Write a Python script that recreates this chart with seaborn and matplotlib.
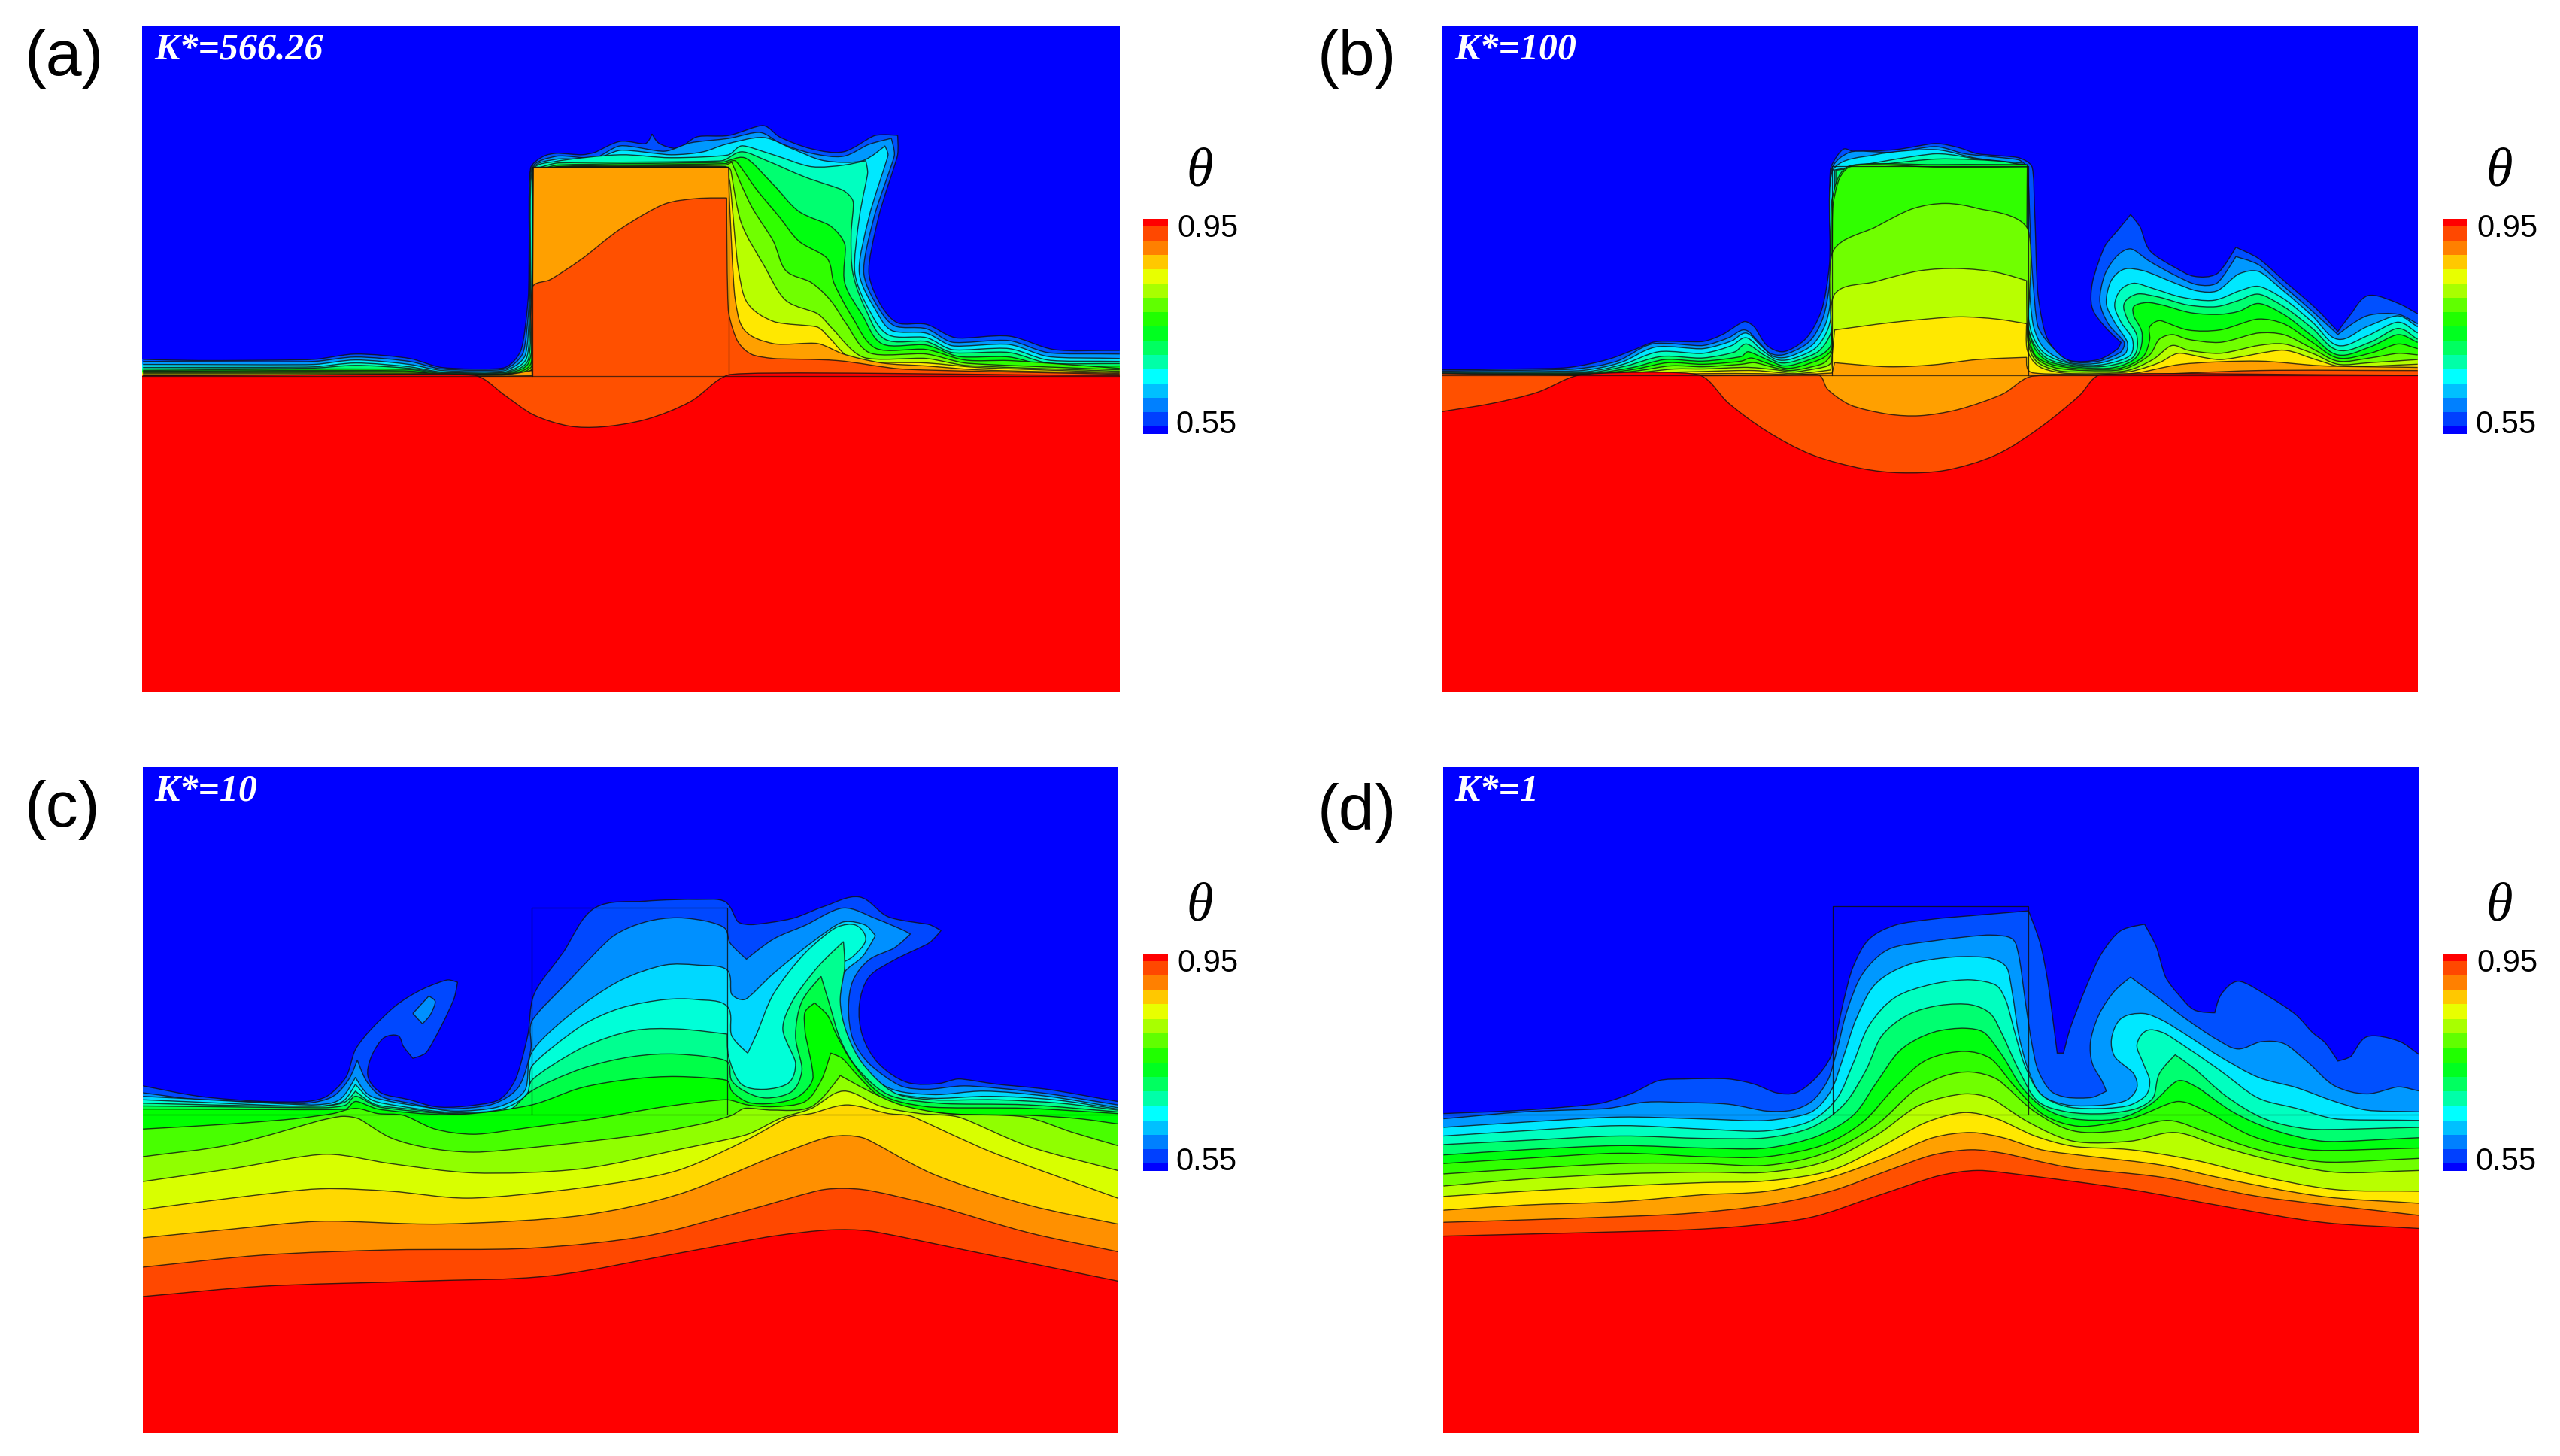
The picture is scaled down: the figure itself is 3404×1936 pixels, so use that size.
import numpy as np
import matplotlib
matplotlib.use("Agg")
import matplotlib.pyplot as plt
from matplotlib.path import Path
from matplotlib.patches import PathPatch
from matplotlib.colors import ListedColormap
import seaborn as sns

# ---- data: isotherm curves (x, y) in each panel's reading units ----
band_colors = ["#0000ff", "#0050ff", "#0098ff", "#00e8ff", "#00ffc0", "#00ff70", "#00ff10",
               "#30ff00", "#70ff00", "#b8ff00", "#ffe800", "#ffa000", "#ff5000", "#ff0000"]
band_colors_c = ["#0000ff", "#0048ff", "#0090ff", "#00d8ff", "#00ffd8", "#00ff90", "#00ff48", "#00ff00",
                 "#48ff00", "#90ff00", "#d8ff00", "#ffd800", "#ff9000", "#ff4800", "#ff0000"]
bar_colors = ["#0000ff", "#0040ff", "#0080ff", "#00c0ff", "#00ffff", "#00ffa8", "#00ff60", "#00ff20",
              "#20ff00", "#60ff00", "#a8ff00", "#e8ff00", "#ffc800", "#ff8000", "#ff4800", "#ff0000"]
bar_bands = [15, 14, 14, 13, 13, 12, 12, 11, 11, 10, 10, 9, 9, 8, 8, 7, 7, 6, 6, 5, 5, 4, 4, 3, 3, 2, 2, 1, 1, 0]
k_labels = ["K*=566.26", "K*=100", "K*=10", "K*=1"]
panel_labels = ["(a)", "(b)", "(c)", "(d)"]
bar_ticks = ["0.95", "0.55"]

a1 = [(12,1158),(100,1162),(280,1158),(345,1140),(430,1155),(480,1185),(580,1185),(604,1130),(616,950),(620,512),(640,475),(660,465),(700,470),(720,462),(760,425),(800,432),(810,400),(820,430),(850,448),(880,410),(930,405),(985,372),(1010,410),(1060,450),(1110,460),(1160,405),(1195,405),(1195,470),(1165,680),(1150,870),(1170,980),(1195,1035),(1240,1040),(1285,1085),(1370,1080),(1440,1125),(1543,1128)]
a2 = [(12,1165),(280,1165),(345,1150),(430,1165),(480,1190),(580,1190),(607,1140),(618,950),(621,514),(660,475),(720,480),(760,440),(830,458),(870,430),(930,415),(980,395),(1010,430),(1060,465),(1110,475),(1150,435),(1185,415),(1190,470),(1158,680),(1142,870),(1165,985),(1190,1045),(1240,1055),(1280,1100),(1370,1095),(1430,1135),(1543,1140)]
a3 = [(12,1175),(280,1175),(345,1160),(430,1175),(480,1195),(580,1195),(610,1150),(619,960),(622,516),(660,485),(720,485),(760,455),(840,470),(890,460),(925,435),(985,412),(1030,450),(1080,490),(1140,490),(1175,440),(1180,470),(1150,680),(1135,870),(1160,990),(1185,1060),(1240,1070),(1280,1112),(1370,1108),(1430,1148),(1543,1155)]
a4 = [(12,1185),(280,1183),(345,1170),(430,1183),(480,1200),(580,1200),(612,1160),(620,970),(623,518),(660,492),(760,470),(840,480),(930,470),(950,440),(1000,470),(1060,510),(1110,505),(1145,490),(1148,530),(1135,680),(1128,870),(1150,990),(1180,1075),(1240,1085),(1280,1125),(1370,1122),(1430,1160),(1543,1165)]
a5 = [(12,1190),(280,1187),(345,1178),(430,1188),(480,1202),(580,1202),(614,1168),(621,975),(624,520),(660,498),(920,490),(950,460),(990,490),(1050,545),(1110,590),(1125,625),(1122,740),(1125,870),(1145,990),(1175,1090),(1240,1098),(1280,1135),(1370,1135),(1430,1170),(1543,1172)]
a6 = [(12,1195),(280,1190),(430,1192),(480,1205),(580,1205),(615,1175),(628,980),(634,530),(660,505),(920,495),(955,480),(1000,570),(1040,660),(1090,710),(1112,770),(1112,900),(1140,1010),(1170,1105),(1240,1110),(1290,1148),(1370,1150),(1430,1180),(1543,1180)]
a7 = [(12,1198),(280,1195),(430,1197),(480,1208),(580,1207),(618,1180),(628,1000),(636,535),(660,510),(925,500),(940,490),(975,590),(1010,680),(1040,760),(1085,820),(1095,900),(1125,1020),(1160,1120),(1240,1125),(1300,1160),(1370,1162),(1543,1188)]
a8 = [(12,1200),(280,1198),(430,1200),(480,1209),(580,1208),(620,1185),(629,1020),(638,538),(660,512),(925,505),(935,495),(965,640),(1000,760),(1020,860),(1060,900),(1090,960),(1115,1040),(1150,1135),(1240,1140),(1300,1170),(1543,1193)]
a9 = [(12,1203),(430,1204),(580,1209),(622,1190),(630,1050),(640,540),(660,514),(925,510),(933,520),(950,700),(985,840),(1020,960),(1070,1005),(1095,1060),(1140,1150),(1240,1155),(1300,1178),(1543,1198)]
a10 = [(12,1206),(430,1207),(580,1210),(622,1193),(631,1080),(640,545),(660,515),(925,512),(932,560),(945,850),(960,970),(1000,1030),(1070,1050),(1090,1090),(1125,1160),(1240,1170),(1320,1185),(1543,1202)]
a11 = [(12,1210),(480,1212),(580,1210),(622,1195),(624,512),(930,512),(931,600),(940,950),(955,1060),(1000,1105),(1070,1105),(1110,1140),(1170,1170),(1240,1180),(1320,1193),(1543,1205)]
a12 = [(12,1213),(460,1213),(535,1215),(622,1213),(623,912),(650,890),(700,820),(760,720),(830,635),(880,617),(927,615),(930,1000),(945,1100),(965,1140),(1000,1155),(1100,1162),(1200,1190),(1543,1208)]
a13 = [(12,1213),(535,1213),(580,1280),(625,1345),(680,1382),(730,1385),(800,1360),(870,1300),(930,1210),(1543,1212)]
curves_a = [a1, a2, a3, a4, a5, a6, a7, a8, a9, a10, a11, a12, a13]

b1 = [(20,1138),(140,1135),(220,1130),(280,1105),(320,1075),(355,1048),(430,1047),(460,1025),(495,983),(510,1000),(530,1060),(555,1080),(590,1040),(615,950),(628,800),(630,490),(650,430),(665,437),(730,432),(795,412),(830,425),(860,445),(925,458),(945,485),(950,650),(955,900),(970,1040),(1000,1105),(1050,1105),(1080,1070),(1085,1050),(1060,1000),(1040,940),(1040,860),(1060,740),(1080,690),(1100,640),(1115,680),(1130,755),(1170,810),(1200,838),(1235,830),(1265,745),(1300,780),(1345,860),(1390,940),(1425,1015),(1445,960),(1472,900),(1520,925),(1550,958)]
b2 = [(20,1142),(230,1135),(295,1110),(350,1055),(430,1060),(470,1035),(495,1010),(515,1045),(535,1085),(555,1090),(595,1050),(618,970),(630,830),(632,490),(660,440),(730,440),(795,422),(840,445),(925,465),(938,490),(945,800),(955,1000),(975,1060),(1005,1110),(1050,1110),(1085,1080),(1090,1050),(1065,990),(1052,920),(1060,830),(1080,770),(1100,750),(1130,790),(1170,835),(1205,865),(1235,860),(1265,775),(1300,800),(1340,870),(1385,950),(1425,1025),(1470,965),(1520,960),(1550,990)]
b3 = [(20,1145),(240,1140),(300,1115),(355,1065),(430,1070),(475,1045),(497,1020),(520,1060),(540,1095),(560,1098),(600,1060),(622,990),(632,880),(634,495),(700,448),(795,432),(860,460),(930,475),(938,800),(948,1000),(965,1070),(1005,1115),(1055,1115),(1092,1085),(1095,1050),(1075,985),(1062,925),(1070,850),(1090,815),(1120,820),(1170,860),(1205,885),(1235,885),(1270,830),(1300,822),(1340,885),(1385,965),(1425,1040),(1470,1000),(1520,965),(1550,1000)]
b4 = [(20,1147),(250,1143),(305,1120),(360,1080),(430,1085),(475,1060),(497,1035),(522,1075),(545,1105),(565,1105),(605,1070),(625,1010),(634,920),(636,497),(795,445),(870,465),(935,480),(936,900),(945,1020),(965,1085),(1010,1120),(1060,1120),(1100,1090),(1103,1040),(1085,985),(1075,930),(1085,880),(1105,860),(1140,880),(1180,905),(1230,915),(1270,885),(1300,870),(1340,910),(1385,985),(1425,1060),(1470,1030),(1520,985),(1550,1020)]
b5 = [(20,1150),(255,1146),(310,1125),(365,1095),(430,1100),(480,1080),(497,1055),(525,1090),(550,1115),(570,1112),(610,1080),(628,1030),(636,960),(638,498),(795,462),(900,470),(936,485),(936,950),(945,1040),(968,1100),(1015,1125),(1065,1125),(1105,1095),(1110,1030),(1095,975),(1090,925),(1110,895),(1145,905),(1190,930),(1235,935),(1270,915),(1300,895),(1340,935),(1385,1005),(1425,1075),(1475,1050),(1520,1005),(1550,1040)]
b6 = [(20,1152),(260,1148),(320,1130),(370,1105),(430,1110),(490,1095),(500,1080),(530,1105),(555,1125),(575,1120),(615,1090),(630,1060),(632,590),(655,488),(800,480),(938,480),(937,980),(950,1070),(970,1110),(1020,1130),(1075,1130),(1110,1095),(1118,1020),(1105,965),(1105,935),(1125,922),(1150,930),(1195,955),(1240,960),(1270,950),(1300,925),(1340,960),(1385,1030),(1425,1090),(1475,1065),(1520,1025),(1550,1050)]
b7 = [(20,1154),(265,1150),(325,1135),(375,1115),(430,1120),(490,1110),(505,1100),(535,1120),(560,1133),(580,1128),(618,1100),(632,1070),(634,600),(657,490),(800,488),(938,490),(938,1000),(950,1090),(975,1120),(1025,1135),(1085,1132),(1120,1095),(1130,1040),(1130,1000),(1145,980),(1190,1010),(1240,1010),(1300,975),(1340,990),(1385,1050),(1425,1100),(1475,1085),(1520,1055),(1550,1070)]
b8 = [(20,1155),(265,1152),(330,1140),(380,1125),(430,1128),(490,1120),(510,1115),(540,1130),(565,1140),(585,1135),(620,1115),(632,1080),(634,755),(700,680),(760,620),(810,604),(860,620),(937,680),(938,1030),(952,1100),(980,1130),(1030,1140),(1090,1135),(1130,1090),(1145,1040),(1165,1025),(1190,1040),(1240,1050),(1300,1020),(1340,1025),(1385,1070),(1425,1110),(1475,1100),(1520,1085),(1550,1090)]
b9 = [(20,1156),(270,1153),(335,1145),(385,1135),(430,1135),(500,1130),(545,1138),(570,1145),(590,1140),(625,1125),(635,1100),(636,895),(700,855),(770,820),(830,813),(890,825),(937,852),(939,1050),(952,1110),(985,1140),(1040,1145),(1095,1140),(1135,1105),(1165,1060),(1190,1075),(1240,1085),(1300,1060),(1340,1055),(1385,1085),(1425,1120),(1475,1115),(1550,1105)]
b10 = [(20,1157),(275,1155),(340,1148),(430,1143),(510,1140),(575,1150),(630,1138),(636,1010),(730,985),(830,968),(890,975),(937,990),(938,1075),(955,1125),(990,1147),(1045,1150),(1100,1143),(1145,1115),(1175,1085),(1240,1105),(1340,1075),(1390,1105),(1430,1128),(1550,1120)]
b11 = [(20,1158),(280,1157),(430,1150),(520,1150),(580,1153),(632,1148),(636,1115),(720,1128),(790,1122),(860,1105),(937,1098),(940,1140),(960,1150),(1100,1150),(1180,1120),(1300,1110),(1400,1125),(1550,1130)]
b12 = [(20,1150),(300,1157),(560,1155),(612,1155),(625,1200),(660,1250),(720,1280),(770,1285),(830,1265),(900,1215),(942,1160),(1100,1155),(1300,1140),(1550,1140)]
b13 = [(20,1272),(100,1245),(170,1210),(235,1155),(425,1155),(470,1245),(530,1335),(600,1410),(680,1455),(740,1468),(810,1460),(890,1410),(960,1320),(1020,1220),(1050,1155),(1550,1155)]
curves_b = [b1, b2, b3, b4, b5, b6, b7, b8, b9, b10, b11, b12, b13]

c1 = [(12,945),(100,975),(200,990),(270,990),(300,975),(330,920),(345,840),(370,780),(410,710),(450,665),(490,638),(505,645),(500,690),(480,770),(455,850),(435,865),(420,830),(412,800),(390,805),(370,860),(365,920),(385,965),(430,985),(470,1005),(510,1005),(570,985),(595,930),(615,800),(625,680),(670,560),(720,430),(800,410),(880,405),(925,412),(945,470),(965,478),(1030,460),(1080,425),(1135,398),(1180,455),(1245,478),(1263,495),(1245,530),(1190,580),(1150,630),(1135,710),(1140,800),(1165,880),(1210,935),(1260,938),(1290,925),(1350,940),(1430,955),(1540,990)]
c2 = [(12,965),(100,985),(210,992),(270,995),(310,975),(335,925),(348,870),(362,930),(385,975),(430,995),(480,1012),(560,998),(600,950),(620,840),(621,760),(680,640),(750,510),(800,470),(850,458),(900,470),(925,490),(932,530),(958,578),(1000,520),(1050,480),(1110,430),(1160,460),(1205,495),(1215,505),(1190,545),(1150,580),(1125,640),(1118,720),(1125,810),(1150,880),(1200,945),(1240,955),(1300,945),(1420,965),(1540,1000)]
c3 = [(12,975),(280,1000),(320,985),(345,920),(365,970),(400,990),(450,1005),(500,1018),(570,1005),(610,960),(621,850),(680,740),(760,640),(830,595),(880,595),(928,610),(935,680),(955,695),(1000,620),(1060,530),(1110,470),(1145,480),(1160,510),(1140,570),(1110,620),(1100,700),(1105,800),(1130,870),(1180,950),(1250,970),(1330,960),(1430,975),(1540,1008)]
c4 = [(12,985),(280,1005),(325,990),(345,940),(370,985),(420,1005),(500,1022),(575,1012),(615,965),(621,890),(700,770),(760,720),(830,695),(880,695),(928,715),(935,800),(960,850),(975,790),(1000,680),(1050,560),(1100,485),(1130,480),(1145,520),(1125,570),(1100,600),(1080,690),(1085,790),(1105,870),(1160,950),(1240,980),(1340,975),(1440,985),(1540,1012)]
c5 = [(12,995),(200,1003),(300,1003),(330,990),(345,960),(375,998),(430,1012),(500,1025),(580,1018),(612,985),(621,930),(700,835),(780,785),(850,780),(928,795),(930,860),(950,940),(985,955),(1025,935),(1035,880),(1015,780),(1030,700),(1070,600),(1110,527),(1112,600),(1105,700),(1115,790),(1140,880),(1190,965),(1250,985),(1350,985),(1450,995),(1540,1015)]
c6 = [(12,1003),(300,1008),(330,1000),(345,975),(380,1005),(500,1027),(580,1022),(621,960),(700,895),(780,860),(850,853),(928,875),(935,930),(960,965),(990,980),(1030,960),(1045,900),(1035,800),(1045,700),(1075,628),(1090,720),(1105,810),(1130,890),(1180,970),(1260,995),(1400,1000),(1540,1020)]
c7 = [(12,1012),(330,1012),(345,990),(380,1012),(500,1028),(621,1000),(700,950),(780,925),(850,918),(928,930),(935,960),(960,992),(1000,995),(1040,975),(1062,925),(1050,790),(1050,730),(1065,705),(1085,740),(1100,800),(1125,880),(1170,970),(1240,1005),(1400,1010),(1540,1025)]
c8 = [(12,1070),(150,1055),(250,1040),(310,1025),(345,1010),(380,1025),(420,1030),(470,1070),(530,1085),(620,1065),(720,1040),(830,1005),(928,985),(960,1000),(1000,1005),(1050,990),(1075,930),(1090,850),(1108,865),(1130,910),(1170,980),(1230,1015),(1300,1028),(1400,1030),(1480,1040),(1540,1055)]
c9 = [(12,1150),(150,1115),(290,1045),(325,1033),(350,1040),(400,1095),(460,1125),(530,1137),(640,1120),(800,1085),(900,1050),(935,1030),(955,1010),(1000,1015),(1060,1005),(1105,915),(1150,960),(1200,1000),(1270,1025),(1395,1035),(1470,1080),(1540,1118)]
c10 = [(12,1222),(150,1185),(300,1143),(400,1170),(530,1197),(700,1185),(850,1130),(960,1085),(1010,1040),(1060,1010),(1110,960),(1170,1005),(1230,1025),(1290,1035),(1400,1120),(1540,1190)]
c11 = [(12,1303),(150,1270),(290,1243),(400,1250),(520,1270),(700,1240),(850,1190),(960,1100),(1025,1035),(1060,1025),(1115,1000),(1180,1025),(1215,1032),(1340,1135),(1540,1270)]
c12 = [(12,1385),(150,1360),(290,1337),(480,1345),(700,1320),(850,1260),(1000,1150),(1090,1092),(1140,1095),(1250,1200),(1400,1290),(1540,1345)]
c13 = [(12,1470),(200,1435),(400,1420),(620,1415),(800,1380),(950,1310),(1080,1245),(1140,1245),(1250,1290),(1400,1370),(1540,1425)]
c14 = [(12,1555),(200,1525),(450,1510),(650,1495),(850,1430),(1000,1380),(1090,1362),(1150,1365),(1300,1420),(1540,1510)]
curves_c = [c1, c2, c3, c4, c5, c6, c7, c8, c9, c10, c11, c12, c13, c14]
island_c = [(435,735),(460,685),(470,700),(462,740),(450,765),(435,735)]

d1 = [(23,1025),(150,1015),(270,995),(320,965),(360,930),(400,925),(470,925),(510,940),(545,965),(575,965),(605,925),(630,860),(650,700),(665,600),(690,520),(730,480),(790,462),(850,452),(940,438),(958,530),(970,640),(985,850),(995,850),(1005,780),(1030,660),(1055,560),(1085,495),(1122,477),(1140,540),(1155,630),(1175,680),(1200,725),(1232,733),(1242,680),(1268,642),(1320,690),(1360,740),(1385,790),(1405,820),(1425,873),(1445,860),(1470,803),(1520,815),(1553,855)]
d2 = [(23,1040),(150,1020),(280,1010),(340,992),(400,993),(470,998),(530,1018),(570,1015),(600,990),(625,930),(640,840),(655,730),(680,620),(720,550),(790,525),(880,508),(915,520),(925,570),(935,700),(945,820),(955,900),(975,960),(1000,978),(1040,978),(1062,960),(1055,930),(1040,880),(1037,820),(1050,740),(1075,670),(1100,630),(1140,685),(1190,755),(1235,810),(1268,838),(1305,817),(1340,822),(1380,880),(1420,945),(1470,968),(1520,948),(1553,960)]
d3 = [(23,1065),(150,1050),(300,1035),(420,1040),(530,1045),(600,1020),(630,960),(650,860),(670,750),(700,650),(750,595),(820,572),(880,575),(905,600),(915,680),(925,800),(940,900),(960,970),(1000,1000),(1060,1000),(1095,985),(1110,950),(1105,910),(1075,860),(1070,810),(1085,750),(1120,735),(1150,755),(1190,800),(1240,860),(1300,920),(1360,950),(1420,990),(1470,1015),(1553,1020)]
d4 = [(23,1090),(150,1075),(300,1060),(430,1070),(530,1075),(600,1045),(640,980),(665,880),(690,770),(730,690),(790,650),(850,638),(890,655),(905,700),(920,800),(935,890),(960,970),(1000,1005),(1060,1010),(1100,1000),(1125,970),(1130,930),(1120,880),(1110,825),(1125,785),(1150,790),(1185,830),(1240,900),(1300,980),(1360,1010),(1420,1040),(1553,1045)]
d5 = [(23,1115),(150,1103),(300,1090),(430,1097),(530,1095),(600,1065),(650,1000),(685,900),(710,800),(750,740),(800,712),(850,710),(880,735),(900,800),(925,900),(955,990),(1000,1020),(1060,1025),(1110,1010),(1135,980),(1145,910),(1170,855),(1200,895),(1250,975),(1310,1040),(1380,1070),(1553,1065)]
d6 = [(23,1145),(150,1130),(300,1118),(430,1125),(530,1125),(610,1090),(665,1030),(700,940),(740,840),(790,790),(840,778),(870,790),(900,860),(930,950),(965,1010),(1010,1040),(1080,1040),(1130,1000),(1175,930),(1205,950),(1260,1020),(1320,1070),(1400,1105),(1553,1095)]
d7 = [(23,1170),(150,1155),(300,1140),(430,1150),(530,1150),(620,1115),(680,1050),(730,950),(780,870),(840,845),(880,865),(920,950),(965,1030),(1020,1062),(1100,1040),(1175,990),(1220,1020),(1290,1090),(1380,1130),(1553,1125)]
d8 = [(23,1200),(150,1185),(300,1170),(430,1170),(530,1175),(620,1140),(700,1060),(760,960),(810,915),(850,905),(890,925),(950,1020),(1010,1075),(1080,1075),(1160,1045),(1220,1080),(1300,1130),(1400,1165),(1553,1155)]
d9 = [(23,1235),(150,1215),(300,1200),(430,1195),(530,1195),(620,1165),(700,1090),(770,1000),(840,968),(880,980),(940,1050),(1010,1105),(1100,1105),(1170,1080),(1240,1120),(1320,1160),(1420,1195),(1553,1190)]
d10 = [(23,1265),(150,1250),(300,1235),(430,1225),(530,1220),(630,1190),(710,1120),(780,1050),(840,1022),(890,1040),(950,1090),(1010,1120),(1100,1130),(1200,1160),(1300,1205),(1420,1245),(1553,1250)]
d11 = [(23,1305),(150,1290),(300,1280),(430,1260),(530,1250),(630,1210),(720,1150),(790,1095),(850,1080),(900,1095),(960,1130),(1040,1150),(1150,1175),(1250,1215),(1400,1265),(1553,1285)]
d12 = [(23,1340),(200,1330),(400,1315),(530,1290),(630,1250),(720,1190),(790,1145),(850,1130),(900,1140),(1000,1180),(1150,1210),(1300,1265),(1553,1320)]
d13 = [(23,1380),(200,1372),(400,1362),(500,1350),(600,1325),(700,1265),(800,1205),(860,1190),(940,1205),(1100,1245),(1250,1295),(1400,1340),(1553,1358)]
curves_d = [d1, d2, d3, d4, d5, d6, d7, d8, d9, d10, d11, d12, d13]

block_a = ([623, 623, 930, 930], [1213, 512, 512, 1213])
block_b = ([632, 632, 940, 940], [1155, 485, 485, 1155])
block_c = ([621, 621, 928, 928], [1028, 428, 428, 1028])
block_d = ([633, 633, 940, 940], [1028, 425, 425, 1028])
base_y = [1213, 1155, 1028, 1028]

# ---- layout (pixels of the output image) ----
W, H = 3404, 1936
DPI = 200
# left, right, top, bottom, reading-origin x, y, reading scale x, y
frames = [(189, 1489, 35, 920, 180, 20, 1.179, 2.529),
          (1917, 3215, 35, 920, 1900, 20, 1.179, 2.412),
          (190, 1486, 1020, 1906, 180, 1010, 1.179, 2.178),
          (1919, 3217, 1020, 1906, 1900, 1010, 1.179, 2.178)]
label_pos = [(33, 100), (1752, 100), (33, 1099), (1752, 1103)]
k_pos = [(205, 80), (1934, 80), (205, 1065), (1934, 1065)]
bars = [(1520, 1553, 291, 577), (3248, 3281, 291, 577), (1520, 1553, 1268, 1557), (3248, 3281, 1268, 1557)]

sns.set_theme(style="white", rc={"font.family": ["Liberation Sans", "DejaVu Sans"]})
fig = plt.figure(figsize=(W / DPI, H / DPI), dpi=DPI, facecolor="white")


def add_ax(l, r, t, b):
    return fig.add_axes([l / W, 1 - b / H, (r - l) / W, (b - t) / H])


def smooth(pts, k):
    p = np.array(pts, dtype=float) * [1, k]
    n = len(p)
    seg = np.linalg.norm(p[1:] - p[:-1], axis=1)
    t = np.zeros_like(p)
    h = np.zeros(n)
    for i in range(n):
        a = p[i] - p[i - 1] if i > 0 else p[1] - p[0]
        b = p[i + 1] - p[i] if i < n - 1 else p[-1] - p[-2]
        la, lb = np.linalg.norm(a) + 1e-9, np.linalg.norm(b) + 1e-9
        ua, ub = a / la, b / lb
        d = ua + ub
        dn = np.linalg.norm(d) + 1e-9
        t[i] = d / dn
        # a sharp vertex keeps its corner
        h[i] = 0.0 if ua @ ub < 0.3 else min(la, lb) / 3
    verts = [p[0]]
    codes = [Path.MOVETO]
    for i in range(n - 1):
        verts += [p[i] + t[i] * h[i], p[i + 1] - t[i + 1] * h[i + 1], p[i + 1]]
        codes += [Path.CURVE4] * 3
    return (np.array(verts) / [1, k]).tolist(), codes


def draw_curve(ax, pts, color, k, ybot, closed=False):
    v, c = smooth(pts, k)
    if closed:
        fv, fc = v, c
    else:
        fv = v + [[pts[-1][0] + 30, pts[-1][1]], [pts[-1][0] + 30, ybot], [pts[0][0] - 30, ybot], [pts[0][0] - 30, pts[0][1]]]
        fc = c + [Path.LINETO] * 4
    ax.add_patch(PathPatch(Path(fv, fc), facecolor=color, edgecolor="none", lw=0))
    ax.add_patch(PathPatch(Path(v, c), facecolor="none", edgecolor="#101010", lw=0.5, alpha=0.8))


panels = [(curves_a, band_colors, block_a), (curves_b, band_colors, block_b),
          (curves_c, band_colors_c, block_c), (curves_d, band_colors, block_d)]

for i, ((curves, colors, block), fr) in enumerate(zip(panels, frames)):
    l, r, t, b, ox, oy, fx, fy = fr
    ax = add_ax(l, r, t, b)
    x0, x1 = (l - ox) * fx, (r - ox) * fx
    y0, y1 = (t - oy) * fy, (b - oy) * fy
    k = fx / fy
    ax.set_facecolor(colors[0])
    for j, crv in enumerate(curves):
        draw_curve(ax, crv, colors[j + 1], k, y1)
    if i == 2:
        draw_curve(ax, island_c, colors[2], k, y1, closed=True)
    sns.lineplot(x=block[0], y=block[1], sort=False, estimator=None, color="#101010", lw=0.45, alpha=0.85, ax=ax)
    sns.lineplot(x=[x0, x1], y=[base_y[i], base_y[i]], sort=False, estimator=None, color="#101010", lw=0.45, alpha=0.7, ax=ax)
    ax.set_xlim(x0, x1)
    ax.set_ylim(y1, y0)
    ax.set_xticks([])
    ax.set_yticks([])
    ax.set_xlabel("")
    ax.set_ylabel("")
    sns.despine(ax=ax, left=True, bottom=True)
    fig.text(label_pos[i][0] / W, 1 - label_pos[i][1] / H, panel_labels[i], fontsize=31, color="black",
             family=["Liberation Sans"], va="baseline", ha="left")
    fig.text(k_pos[i][0] / W, 1 - k_pos[i][1] / H, k_labels[i], fontsize=18, color="white",
             family=["Liberation Serif"], style="italic", weight="bold", va="baseline", ha="left")
    bl, br, bt, bb = bars[i]
    cax = add_ax(bl, br, bt, bb)
    sns.heatmap(np.array(bar_bands).reshape(-1, 1), cmap=ListedColormap(bar_colors), vmin=-0.5, vmax=15.5,
                cbar=False, xticklabels=False, yticklabels=False, ax=cax)
    fig.text((br + 12) / W, 1 - (bt + 13) / H, bar_ticks[0], fontsize=15, color="black", va="center", ha="left")
    fig.text((br + 10) / W, 1 - (bb - 12) / H, bar_ticks[1], fontsize=15, color="black", va="center", ha="left")
    fig.text((br + 42) / W, 1 - (bt - 62) / H, "θ", fontsize=26, color="black", family=["Liberation Serif"],
             style="italic", va="center", ha="center")

fig.savefig("out.png", dpi=DPI, facecolor="white")
